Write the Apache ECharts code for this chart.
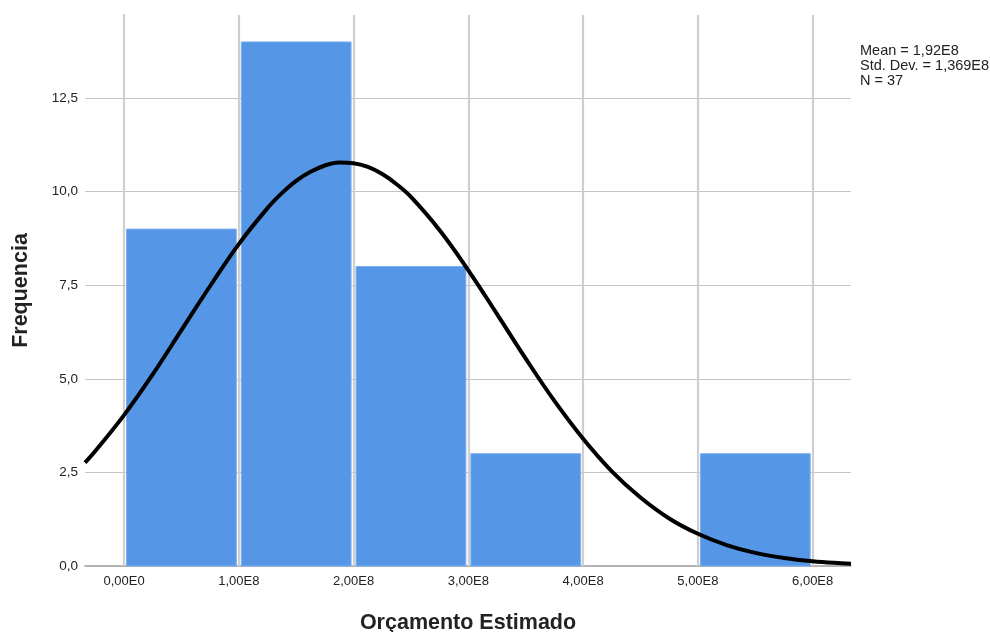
<!DOCTYPE html>
<html><head><meta charset="utf-8">
<script src="https://cdn.jsdelivr.net/npm/echarts@6/dist/echarts.min.js"></script>
<style>html,body{margin:0;padding:0;background:#fff}#c{width:990px;height:632px}</style>
</head><body><div id="c"></div>
<script>
// Histogram bins (Orçamento Estimado)
const binStart = [0, 1e8, 2e8, 3e8, 4e8, 5e8];
const binEnd   = [1e8, 2e8, 3e8, 4e8, 5e8, 6e8];
const counts   = [9, 14, 8, 3, 0, 3];
// Normal curve
const curveX = [-0.34e8,-0.25e8,0,0.25e8,0.5e8,0.75e8,1e8,1.25e8,1.375e8,1.5e8,1.625e8,1.75e8,1.875e8,2e8,2.125e8,2.25e8,2.375e8,2.5e8,2.75e8,3e8,3.25e8,3.5e8,3.75e8,4e8,4.25e8,4.5e8,4.75e8,5e8,5.25e8,5.5e8,5.75e8,6e8,6.25e8,6.334e8];
const curveY = [2.76,3.07,4.03,5.12,6.30,7.48,8.60,9.56,9.96,10.29,10.53,10.70,10.78,10.76,10.66,10.47,10.20,9.86,8.97,7.90,6.73,5.54,4.41,3.40,2.53,1.83,1.27,0.86,0.56,0.35,0.215,0.127,0.072,0.060];
const xTicks = [0, 1e8, 2e8, 3e8, 4e8, 5e8, 6e8];
const yTicks = [0, 2.5, 5, 7.5, 10, 12.5];
const statsText = ['Mean = 1,92E8', 'Std. Dev. = 1,369E8', 'N = 37'];

const chart = echarts.init(document.getElementById('c'));
const fmtX = v => v === 0 ? '0,00E0' : (v / 1e8).toFixed(2).replace('.', ',') + 'E8';
const fmtY = v => v.toFixed(1).replace('.', ',');
const font = '"Liberation Sans", Arial, sans-serif';

chart.setOption({
  animation: false,
  grid: { left: 85, top: 15, width: 766, height: 551, containLabel: false, outerBoundsMode: 'none' },
  xAxis: {
    type: 'value', min: -0.34e8, max: 6.334e8,
    axisLine: { show: true, onZero: false, lineStyle: { color: '#9a9a9a', width: 1.5 } },
    axisTick: { show: false },
    splitLine: { show: false },
    axisLabel: { customValues: xTicks, formatter: fmtX, color: '#222', fontFamily: font, fontSize: 13, margin: 9 },
    name: 'Orçamento Estimado', nameLocation: 'middle', nameGap: 46,
    nameTextStyle: { fontFamily: font, fontSize: 21.5, fontWeight: 'bold', color: '#222' }
  },
  yAxis: {
    type: 'value', min: 0, max: 14.72,
    axisLine: { show: true, lineStyle: { color: '#8a8a8a', width: 1.5 } },
    axisTick: { show: false },
    splitLine: { show: false },
    axisLabel: { customValues: yTicks, formatter: fmtY, color: '#222', fontFamily: font, fontSize: 13.5, margin: 7 },
    name: 'Frequencia', nameLocation: 'middle', nameGap: 53, nameRotate: 90,
    nameTextStyle: { fontFamily: font, fontSize: 21.5, fontWeight: 'bold', color: '#222' }
  },
  graphic: [{
    type: 'text', left: 860, top: 43,
    style: { text: statsText.join('\n'), fontFamily: font, fontSize: 14.5, lineHeight: 15, fill: '#222' }
  }],
  series: [
    {
      type: 'line', data: [], z: 1, silent: true,
      markLine: {
        silent: true, symbol: 'none', label: { show: false }, animation: false, z: 1,
        data: [
          ...yTicks.filter(v => v > 0).map(v => ({ yAxis: v, lineStyle: { color: '#c4c4c4', width: 1.2, type: 'solid' } })),
          ...xTicks.map(v => ({ xAxis: v, lineStyle: { color: '#cfcfcf', width: 2.2, type: 'solid' } }))
        ]
      }
    },
    {
      type: 'custom', z: 6,
      data: binStart.map((s, i) => [s, binEnd[i], counts[i]]),
      renderItem: function (params, api) {
        const top = api.coord([api.value(0), api.value(2)]);
        const bot = api.coord([api.value(1), 0]);
        const h = bot[1] - top[1];
        if (h <= 0) return null;
        return {
          type: 'rect',
          shape: { x: top[0] + 2.5, y: top[1], width: bot[0] - top[0] - 5, height: h },
          style: { fill: '#5596e6', stroke: '#7aaef0', lineWidth: 1 }
        };
      }
    },
    {
      type: 'line', z: 7, smooth: 0.4, showSymbol: false, clip: true,
      data: curveX.map((x, i) => [x, curveY[i]]),
      lineStyle: { color: '#000', width: 4 }
    }
  ]
});
</script></body></html>
